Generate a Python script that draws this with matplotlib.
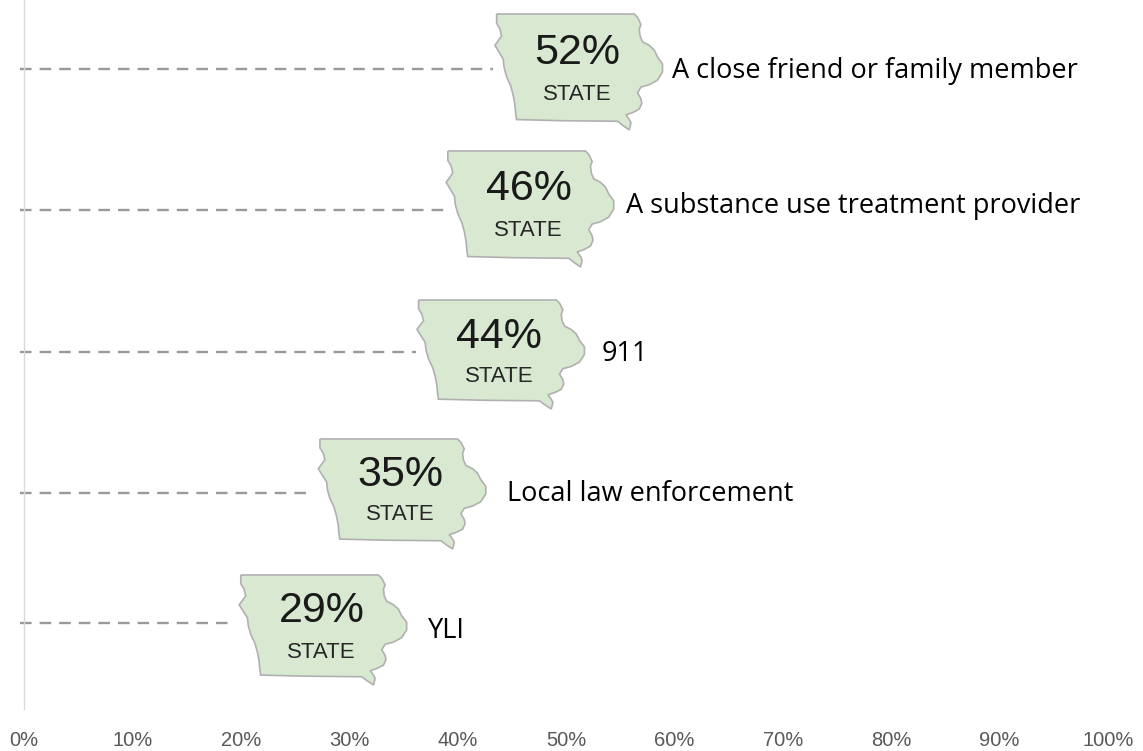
import numpy as np
import matplotlib.pyplot as plt
from matplotlib.patches import PathPatch
from matplotlib.path import Path

categories = ["A close friend or family member", "A substance use treatment provider", "911", "Local law enforcement", "YLI"]
state_pct = [52, 46, 44, 35, 29]
dash_end = [43.3, 38.8, 36.2, 26.2, 19.2]
ticks = [0, 10, 20, 30, 40, 50, 60, 70, 80, 90, 100]

# rows run top to bottom, the y axis is in pixel-like units
line_y = [69, 210, 352, 493, 623]
map_left = [43.6, 39.1, 36.4, 27.3, 20.0]
map_top = [14, 151, 300, 439, 575]
map_bottom = [130, 267, 409, 549, 685]
pct_y = [53, 189, 337, 475, 611]
state_y = [94, 231, 376, 515, 652]
label_y = [71, 206, 354, 494, 631]
label_x = [59.8, 55.5, 53.3, 44.6, 37.3]

map_w = 15.3

# rough state outline, 0-1 in both directions
outline = np.array([
    (0.00, 0.00), (0.83, 0.00), (0.85, 0.03), (0.87, 0.09), (0.86, 0.13), (0.865, 0.19),
    (0.88, 0.24), (0.92, 0.27), (0.95, 0.31), (0.97, 0.37), (1.00, 0.43), (1.00, 0.50),
    (0.97, 0.57), (0.92, 0.61), (0.87, 0.63), (0.85, 0.68), (0.87, 0.73), (0.875, 0.77),
    (0.86, 0.82), (0.82, 0.85), (0.78, 0.87), (0.80, 0.91), (0.81, 0.94), (0.80, 1.00),
    (0.76, 0.96), (0.73, 0.925), (0.40, 0.92), (0.12, 0.91), (0.115, 0.86), (0.11, 0.78),
    (0.10, 0.70), (0.085, 0.62), (0.06, 0.54), (0.045, 0.46), (0.04, 0.39), (0.015, 0.33),
    (-0.01, 0.27), (0.03, 0.19), (0.02, 0.13), (0.00, 0.08), (0.00, 0.00),
])

plt.rcParams['font.family'] = ['Liberation Sans', 'DejaVu Sans']

fig = plt.figure(figsize=(11.43, 7.51), dpi=100)
ax = fig.add_axes([24 / 1143, 1 - 709 / 751, 1084 / 1143, 709 / 751])
ax.set_xlim(0, 100)
ax.set_ylim(709, 0)

for i in range(len(categories)):
    ax.plot([-0.4, dash_end[i]], [line_y[i], line_y[i]], color='#999999', lw=1.7,
            dashes=(4.9, 3.4), clip_on=False)

    x = map_left[i] + outline[:, 0] * map_w
    y = map_top[i] + outline[:, 1] * (map_bottom[i] - map_top[i])
    ax.add_patch(PathPatch(Path(np.column_stack([x, y])), facecolor='#d9e8d0', edgecolor='#b0b0b0',
                           lw=1.2, zorder=3, clip_on=False))

    cx = map_left[i] + 7.45
    ax.text(cx, pct_y[i], f"{state_pct[i]}%", fontsize=31, color='#1a1a1a', ha='center', va='center', zorder=4)
    ax.text(cx, state_y[i], "STATE", fontsize=16, color='#262626', ha='center', va='center', zorder=4)
    ax.text(label_x[i], label_y[i], categories[i], fontsize=19.5, family='Open Sans', color='black',
            ha='left', va='center')

for side in ['top', 'right', 'bottom']:
    ax.spines[side].set_visible(False)
ax.spines['left'].set_color('#d9d9d9')
ax.spines['left'].set_linewidth(1)

ax.set_yticks([])
ax.set_xticks(ticks)
ax.set_xticklabels([f"{t}%" for t in ticks], fontsize=14.5, color='#595959')
ax.tick_params(axis='x', length=0, pad=16)

fig.savefig('out.png', dpi=100)
